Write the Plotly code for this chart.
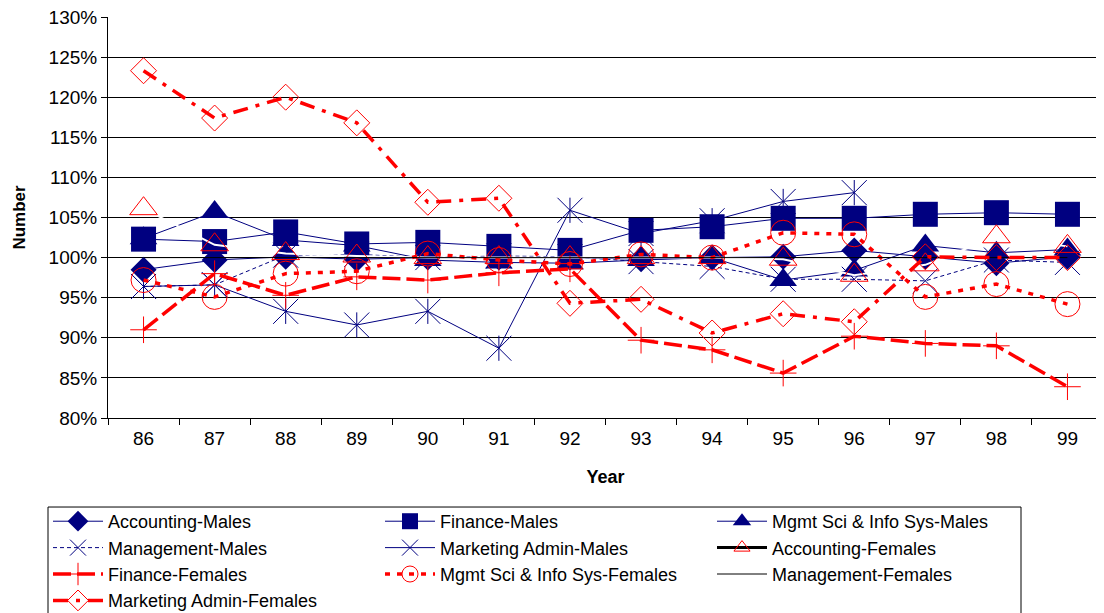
import plotly.graph_objects as go

years = ['86', '87', '88', '89', '90', '91', '92', '93', '94', '95', '96', '97', '98', '99']

accounting_males = [98.5, 99.7, 100.1, 99.8, 100.0, 100.0, 100.0, 99.8, 100.0, 100.1, 100.9, 100.1, 99.3, 100.1]
finance_males = [102.3, 102.0, 103.2, 101.7, 101.9, 101.4, 100.9, 103.4, 103.85, 104.9, 104.9, 105.4, 105.6, 105.4]
mgmt_sci_males = [102.4, 105.7, 102.2, 101.5, 99.7, 99.4, 99.3, 99.7, 100.0, 97.2, 98.4, 101.5, 100.6, 101.0]
management_males = [96.4, 96.6, 100.3, 100.4, 100.0, 100.2, 100.1, 99.5, 98.9, 97.3, 97.3, 97.1, 99.7, 99.4]
marketing_males = [96.4, 96.6, 93.3, 91.6, 93.3, 88.7, 105.9, 103.0, 104.6, 107.0, 108.1, None, None, None]
accounting_females = [106.1, 101.6, 100.5, 100.2, 100.0, 100.0, 100.0, 100.0, 100.0, 99.8, 97.8, 99.1, 102.6, 101.4]
finance_females = [91.0, 98.0, 95.3, 97.6, 97.2, 98.1, 98.6, 89.7, 88.5, 85.6, 90.2, 89.3, 89.0, 83.9]
mgmt_sci_females = [97.2, 95.1, 98.0, 98.3, 100.5, 99.7, 99.2, 100.4, 100.0, 103.1, 102.9, 95.1, 96.7, 94.2]
management_females = [100, 100, 100, 100, 100, 100, 100, 100, 100, 100, 100, 100, 100, 100]
marketing_females = [123.3, 117.4, 120.0, 116.8, 106.9, 107.4, 94.3, 94.8, 90.6, 93.0, 92.0, 100.1, 100.0, 100.0]

y_ticks = [80, 85, 90, 95, 100, 105, 110, 115, 120, 125, 130]
y_tick_labels = ['80%', '85%', '90%', '95%', '100%', '105%', '110%', '115%', '120%', '125%', '130%']

NAVY = '#000080'
RED = '#FF0000'
FONT = 'Liberation Sans, Arial, sans-serif'

fig = go.Figure()

def add(name, y, line, marker, rank, showlegend=True, mode='lines+markers'):
    fig.add_trace(go.Scatter(x=years, y=y, name=name, mode=mode, line=line,
                             marker=marker, legendrank=rank, showlegend=showlegend,
                             connectgaps=False))

add('Accounting-Males', accounting_males, dict(color=NAVY, width=1),
    dict(symbol='diamond', size=20, color=NAVY), 1)
add('Finance-Males', finance_males, dict(color=NAVY, width=1),
    dict(symbol='square', size=25, color=NAVY), 2)
add('Mgmt Sci & Info Sys-Males', mgmt_sci_males, dict(color=NAVY, width=1),
    dict(symbol='triangle-up', size=24, color=NAVY), 3)
add('Management-Males', management_males, dict(color=NAVY, width=1, dash='4px,3px'),
    dict(symbol='x-thin-open', size=25, color=NAVY, line=dict(color=NAVY, width=1)), 4)
add('Marketing Admin-Males', marketing_males, dict(color=NAVY, width=1),
    dict(symbol='x-thin-open', size=25, color=NAVY, line=dict(color=NAVY, width=1)), 5)
add('Marketing Admin-Males', marketing_males, dict(color=NAVY, width=1),
    dict(symbol='line-ns-open', size=18, color=NAVY, line=dict(color=NAVY, width=1)), 5,
    showlegend=False, mode='markers')
# Accounting-Females: white line in the plot, black line in the legend
add('Accounting-Females', accounting_females, dict(color='white', width=2),
    dict(symbol='triangle-up-open', size=24, color=RED, line=dict(color=RED, width=1)), 6,
    showlegend=False)
fig.add_trace(go.Scatter(x=[years[0]], y=[None], name='Accounting-Females', mode='lines+markers',
                         line=dict(color='black', width=3),
                         marker=dict(symbol='triangle-up-open', size=14, color=RED,
                                     line=dict(color=RED, width=1)),
                         legendrank=6))
add('Finance-Females', finance_females, dict(color=RED, width=3.5, dash='18px,6px'),
    dict(symbol='cross-thin-open', size=19, color=RED, line=dict(color=RED, width=1)), 7)
add('Mgmt Sci & Info Sys-Females', mgmt_sci_females, dict(color=RED, width=3.5, dash='5px,7px'),
    dict(symbol='circle-open', size=25, color=RED, line=dict(color=RED, width=1)), 8)
add('Management-Females', management_females, dict(color='black', width=1),
    dict(size=1), 9, mode='lines')
add('Marketing Admin-Females', marketing_females, dict(color=RED, width=3.5, dash='15px,8px,4px,8px'),
    dict(symbol='diamond-open', size=20, color=RED, line=dict(color=RED, width=1)), 10)

# page body has an 8px margin, so the figure is 8px smaller and margins shifted
fig.update_layout(
    width=1096, height=605, autosize=False,
    margin=dict(l=100, r=1, t=9, b=195, pad=0, autoexpand=False),
    paper_bgcolor='white', plot_bgcolor='white',
    font=dict(family=FONT, size=18, color='black'),
    xaxis=dict(type='category', tickson='boundaries', ticks='outside', ticklen=6,
               tickcolor='black', showline=True, linecolor='black', linewidth=1,
               showgrid=False, tickfont=dict(size=19), range=[-0.5, 13.5],
               ticklabeloverflow='allow', ticklabelstandoff=3,
               title=dict(text='<b>Year</b>', font=dict(size=18), standoff=22)),
    yaxis=dict(range=[80, 130], tickvals=y_ticks, ticktext=y_tick_labels,
               ticks='outside', ticklen=6, tickcolor='black', showline=True,
               linecolor='black', linewidth=1, showgrid=True, gridcolor='black',
               gridwidth=1, zeroline=False, tickfont=dict(size=19),
               ticklabeloverflow='allow',
               title=dict(text='<b>Number</b>', font=dict(size=17), standoff=18)),
    legend=dict(orientation='h', x=-0.0603, xanchor='left', y=-0.212, yanchor='top',
                borderwidth=0, bgcolor='rgba(0,0,0,0)',
                font=dict(size=18), entrywidth=267, entrywidthmode='pixels',
                itemwidth=50, traceorder='normal', tracegroupgap=0),
    showlegend=True,
)

# legend frame (reference frame is narrower than the equal-width legend columns)
fig.add_shape(type='rect', xref='paper', yref='paper',
              x0=-0.0603, x1=0.9176, y0=-0.62, y1=-0.222,
              line=dict(color='black', width=1), fillcolor='rgba(0,0,0,0)', layer='above')

fig.write_html('out.html')
